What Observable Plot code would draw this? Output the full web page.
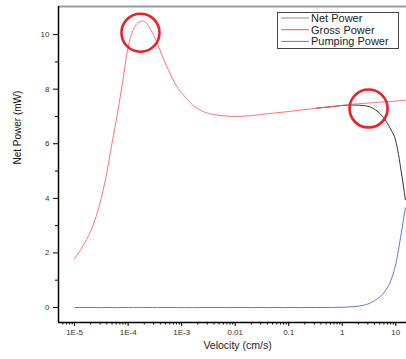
<!DOCTYPE html>
<html>
<head>
<meta charset="utf-8">
<script src="https://cdn.jsdelivr.net/npm/d3@7"></script>
<script src="https://cdn.jsdelivr.net/npm/@observablehq/plot@0.6"></script>
<style>
  html, body { margin: 0; padding: 0; background: #fff; }
  #wrap { position: relative; width: 406px; height: 359px; font-family: "Liberation Sans", Arial, sans-serif; }
  #legend { position: absolute; left: 277px; top: 12px; }
</style>
</head>
<body>
<div id="wrap"></div>
<script>
// Data
const velocity = [1e-5, 1.26e-5, 1.58e-5, 2.0e-5, 2.51e-5, 3.16e-5, 3.98e-5, 5.01e-5, 6.31e-5, 7.94e-5,
  1e-4, 1.26e-4, 1.58e-4, 1.86e-4, 2.24e-4, 2.82e-4, 3.55e-4, 4.47e-4, 5.62e-4, 7.94e-4,
  1.12e-3, 1.58e-3, 2.51e-3, 3.98e-3, 6.31e-3, 0.01, 0.02, 0.04, 0.08, 0.16,
  0.32, 0.63, 1, 1.58, 2.51, 3.98, 6.31, 7.94, 10, 12.6, 15.1];
const grossPower = [1.79, 2.08, 2.4, 2.8, 3.32, 4.02, 4.92, 6.03, 7.1, 8.3,
  9.55, 10.2, 10.45, 10.5, 10.4, 10.08, 9.65, 9.15, 8.72, 8.13,
  7.75, 7.43, 7.18, 7.07, 7.02, 7.0, 7.03, 7.1, 7.16, 7.23,
  7.3, 7.36, 7.41, 7.45, 7.48, 7.51, 7.54, 7.55, 7.56, 7.58, 7.6];
const netPower = [1.79, 2.08, 2.4, 2.8, 3.32, 4.02, 4.92, 6.03, 7.1, 8.3,
  9.55, 10.2, 10.45, 10.5, 10.4, 10.08, 9.65, 9.15, 8.72, 8.13,
  7.75, 7.43, 7.18, 7.07, 7.02, 7.0, 7.03, 7.1, 7.16, 7.23,
  7.3, 7.36, 7.4, 7.42, 7.4, 7.27, 6.88, 6.55, 6.1, 5.0, 3.95];
const pumpingPower = [0, 0, 0, 0, 0, 0, 0, 0, 0, 0,
  0, 0, 0, 0, 0, 0, 0, 0, 0, 0,
  0, 0, 0, 0, 0, 0, 0, 0, 0, 0,
  0, 0, 0.01, 0.03, 0.08, 0.25, 0.6, 0.95, 1.6, 2.7, 3.65];

const seriesNames = ["Net Power", "Gross Power", "Pumping Power"];
const seriesColors = ["#333333", "#ff6262", "#5f7bcc"];
const legendColors = ["#888888", "#ff4d4d", "#5f7bcc"];

const xMajorTicks = [1e-5, 1e-4, 1e-3, 0.01, 0.1, 1, 10];
const xTickLabels = ["1E-5", "1E-4", "1E-3", "0.01", "0.1", "1", "10"];
const yMajorTicks = [0, 2, 4, 6, 8, 10];
const yMinorTicks = [1, 3, 5, 7, 9];

// Highlight circles (x, y in data units)
const circleX = [1.7e-4, 3.1];
const circleY = [10.07, 7.29];

const xDomain = [5.0e-6, 15.85];
const yDomain = [-0.55, 11.03];

const xMinorTicks = [];
for (let e = -6; e <= 1; e++) for (let m = 2; m <= 9; m++) {
  const v = m * Math.pow(10, e);
  if (v >= xDomain[0] && v <= xDomain[1]) xMinorTicks.push(v);
}

const rows = velocity.map((v, i) => ({v, net: netPower[i], gross: grossPower[i], pump: pumpingPower[i]}));
const circles = circleX.map((x, i) => ({x, y: circleY[i]}));

const labelFor = d => {
  const i = xMajorTicks.findIndex(t => Math.abs(Math.log10(t) - Math.log10(d)) < 1e-6);
  return i >= 0 ? xTickLabels[i] : "";
};

const chart = Plot.plot({
  width: 406,
  height: 359,
  marginLeft: 58,
  marginTop: 6,
  marginBottom: 37,
  marginRight: 0,
  style: {fontFamily: "Liberation Sans, Arial, sans-serif", fontSize: "8px", color: "#333", background: "#fff"},
  x: {type: "log", domain: xDomain},
  y: {domain: yDomain},
  marks: [
    Plot.ruleY([yDomain[1]], {stroke: "#999", strokeWidth: 2}),
    Plot.axisX({ticks: xMajorTicks, tickFormat: labelFor, tickSize: 4, tickPadding: 3, label: null, stroke: "#000"}),
    Plot.axisX({ticks: xMinorTicks, tickFormat: () => "", tickSize: 2.5, label: null, stroke: "#000"}),
    Plot.axisY({ticks: yMajorTicks, tickSize: 5, tickPadding: 4, label: null, stroke: "#000"}),
    Plot.axisY({ticks: yMinorTicks, tickFormat: () => "", tickSize: 3, label: null, stroke: "#000"}),
    Plot.ruleX([xDomain[0]], {stroke: "#000", strokeWidth: 1.5}),
    Plot.ruleY([yDomain[0]], {stroke: "#000", strokeWidth: 1.5}),
    // Net power lies under the gross curve where pumping is negligible; draw only the visible part
    Plot.lineY(rows.filter(d => d.v >= 0.3), {x: "v", y: "net", stroke: seriesColors[0], strokeWidth: 1, curve: "monotone-x"}),
    Plot.lineY(rows, {x: "v", y: "gross", stroke: seriesColors[1], strokeWidth: 0.9, curve: "monotone-x"}),
    Plot.lineY(rows, {x: "v", y: "pump", stroke: seriesColors[2], strokeWidth: 1, curve: "monotone-x"}),
    Plot.dot(circles, {x: "x", y: "y", r: 19, stroke: "#e8222a", strokeWidth: 2.6, fill: "none"}),
    Plot.text(["Velocity (cm/s)"], {frameAnchor: "bottom", dy: 26, dx: 5, fontSize: 10.5, fill: "#222"}),
    Plot.text(["Net Power (mW)"], {frameAnchor: "left", dx: -41, rotate: -90, fontSize: 10, fill: "#111"})
  ]
});

const wrap = document.getElementById("wrap");
wrap.appendChild(chart);

// Legend drawn as a small SVG box over the plot
const lw = 122, lh = 37;
const lg = d3.create("svg").attr("id", "legend").attr("width", lw).attr("height", lh);
lg.append("rect").attr("x", 0.5).attr("y", 0.5).attr("width", lw - 1).attr("height", lh - 1)
  .attr("fill", "#fff").attr("stroke", "#444").attr("stroke-width", 1);
seriesNames.forEach((name, i) => {
  const cy = 6 + i * 11.7;
  lg.append("line").attr("x1", 4).attr("x2", 32).attr("y1", cy).attr("y2", cy)
    .attr("stroke", legendColors[i]).attr("stroke-width", 1);
  lg.append("text").attr("x", 34).attr("y", cy).attr("dy", "0.36em")
    .attr("font-family", "Liberation Sans, Arial, sans-serif").attr("font-size", 11)
    .attr("fill", "#222").text(name);
});
wrap.appendChild(lg.node());
</script>
</body>
</html>
